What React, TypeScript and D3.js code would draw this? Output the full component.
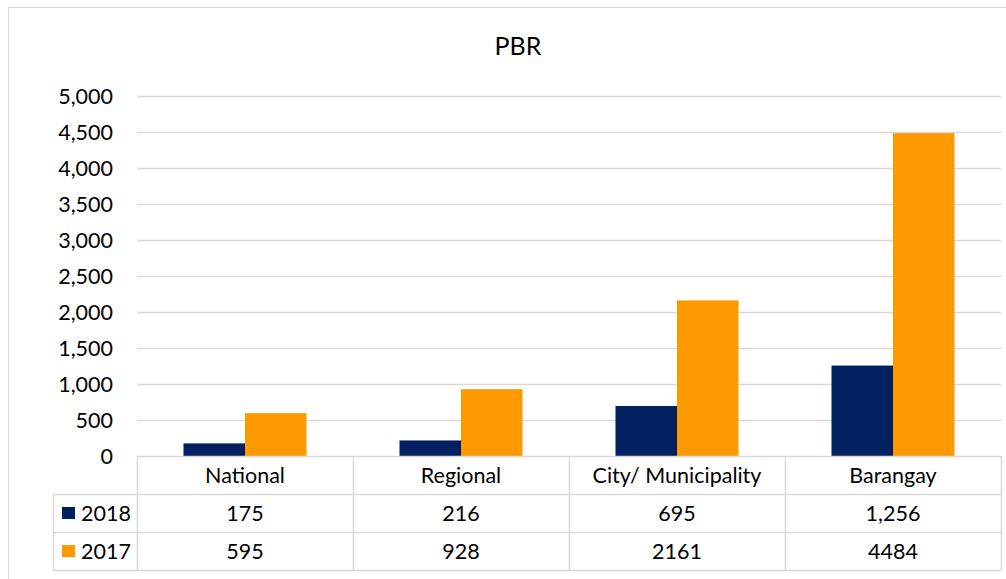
import React from "react";
import * as d3 from "d3";

const categories = ["National", "Regional", "City/ Municipality", "Barangay"];
const seriesNames = ["2018", "2017"];
const values2018 = [175, 216, 695, 1256];
const values2017 = [595, 928, 2161, 4484];
const tableLabels2018 = ["175", "216", "695", "1,256"];
const tableLabels2017 = ["595", "928", "2161", "4484"];
const yTicks = [0, 500, 1000, 1500, 2000, 2500, 3000, 3500, 4000, 4500, 5000];
const title = "PBR";

const colors = ["#002060", "#FF9900"];
const FONT = "Lato, 'Open Sans', sans-serif";
const FS = 21.5;

export default function App() {
  const W = 1006;
  const H = 579;
  const plotLeft = 137;
  const plotRight = 1001;
  const plotTop = 96;
  const plotBottom = 456;
  const rowH = 38;
  const legendLeft = 53;

  const x = d3.scaleBand<string>().domain(categories).range([plotLeft, plotRight]).padding(0);
  const xi = d3
    .scaleBand<string>()
    .domain(seriesNames)
    .range([0, x.bandwidth()])
    .paddingInner(0)
    .paddingOuter(0.756);
  const y = d3.scaleLinear().domain([0, 5000]).range([plotBottom, plotTop]);
  const fmt = d3.format(",");

  const series = [values2018, values2017];
  const tableRows = [tableLabels2018, tableLabels2017];
  const grid = "#D9D9D9";

  const rowTops = [plotBottom, plotBottom + rowH, plotBottom + 2 * rowH, plotBottom + 3 * rowH];

  return (
    <svg width={W} height={H} style={{ display: "block", position: "absolute", left: 0, top: 0 }}>
      <rect x={0} y={0} width={W} height={H} fill="#fff" />
      <rect x={8.5} y={7.5} width={1040} height={600} fill="#fff" stroke={grid} strokeWidth={1} />
      <text x={518} y={55} textAnchor="middle" fontFamily={FONT} fontSize={25} fill="#000">
        {title}
      </text>
      {yTicks.map((t) => (
        <g key={t}>
          {t > 0 && (
            <line x1={plotLeft} x2={plotRight} y1={Math.round(y(t)) + 0.5} y2={Math.round(y(t)) + 0.5} stroke={grid} strokeWidth={1.5} />
          )}
          <text x={113} y={y(t)} dy="0.36em" textAnchor="end" fontFamily={FONT} fontSize={FS} fill="#000">
            {fmt(t)}
          </text>
        </g>
      ))}
      {series.map((vals, si) =>
        vals.map((v, ci) => (
          <rect
            key={`${si}-${ci}`}
            x={(x(categories[ci]) as number) + (xi(seriesNames[si]) as number)}
            y={y(v)}
            width={xi.bandwidth()}
            height={plotBottom - y(v)}
            fill={colors[si]}
          />
        ))
      )}
      {/* data table */}
      <g stroke={grid} strokeWidth={1.5} fill="none">
        <line x1={plotLeft} x2={plotRight} y1={rowTops[0] + 0.5} y2={rowTops[0] + 0.5} />
        {rowTops.slice(1).map((ry) => (
          <line key={ry} x1={legendLeft} x2={plotRight} y1={ry + 0.5} y2={ry + 0.5} />
        ))}
        {categories.map((c) => (
          <line key={c} x1={(x(c) as number) + 0.5} x2={(x(c) as number) + 0.5} y1={rowTops[0]} y2={rowTops[3]} />
        ))}
        <line x1={plotRight + 0.5} x2={plotRight + 0.5} y1={rowTops[0]} y2={rowTops[3]} />
        <line x1={legendLeft + 0.5} x2={legendLeft + 0.5} y1={rowTops[1]} y2={rowTops[3]} />
      </g>
      {categories.map((c) => (
        <text
          key={c}
          x={(x(c) as number) + x.bandwidth() / 2}
          y={rowTops[0] + rowH / 2}
          dy="0.36em"
          textAnchor="middle"
          fontFamily={FONT}
          fontSize={FS}
          fill="#000"
        >
          {c}
        </text>
      ))}
      {tableRows.map((row, ri) => (
        <g key={ri}>
          <rect x={62} y={rowTops[ri + 1] + rowH / 2 - 6} width={13} height={12} fill={colors[ri]} />
          <text x={81} y={rowTops[ri + 1] + rowH / 2} dy="0.36em" fontFamily={FONT} fontSize={FS} fill="#000">
            {seriesNames[ri]}
          </text>
          {row.map((lab, ci) => (
            <text
              key={ci}
              x={(x(categories[ci]) as number) + x.bandwidth() / 2}
              y={rowTops[ri + 1] + rowH / 2}
              dy="0.36em"
              textAnchor="middle"
              fontFamily={FONT}
              fontSize={FS}
              fill="#000"
            >
              {lab}
            </text>
          ))}
        </g>
      ))}
    </svg>
  );
}
